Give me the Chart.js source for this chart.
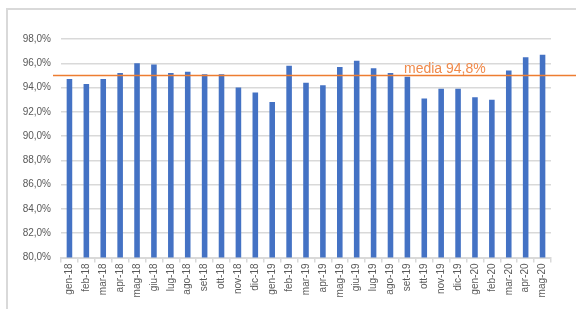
<!DOCTYPE html>
<html>
<head>
<meta charset="utf-8">
<script src="https://cdn.jsdelivr.net/npm/chart.js@4/dist/chart.umd.min.js"></script>
<style>
  html, body { margin: 0; padding: 0; background: #fff; overflow: hidden; }
</style>
</head>
<body>
<canvas id="grafica" width="576" height="309"></canvas>
<script>
const mesi = ['gen-18','feb-18','mar-18','apr-18','mag-18','giu-18','lug-18','ago-18','set-18','ott-18','nov-18','dic-18',
  'gen-19','feb-19','mar-19','apr-19','mag-19','giu-19','lug-19','ago-19','set-19','ott-19','nov-19','dic-19',
  'gen-20','feb-20','mar-20','apr-20','mag-20'];
const valori = [94.7, 94.3, 94.7, 95.2, 96.0, 95.9, 95.2, 95.3, 95.1, 95.1, 94.0, 93.6,
  92.8, 95.8, 94.4, 94.2, 95.7, 96.2, 95.6, 95.2, 94.9, 93.1, 93.9, 93.9,
  93.2, 93.0, 95.4, 96.5, 96.7];
const media = 95.0;
const mediaLabel = 'media 94,8%';

// linea media + cornice grigia
const extra = {
  id: 'extra',
  afterDraw(chart) {
    const c = chart.ctx;
    const y = chart.scales.y.getPixelForValue(media);
    c.save();
    c.strokeStyle = '#d9d9d9';
    c.lineWidth = 2;
    c.beginPath();
    c.moveTo(7, 309);
    c.lineTo(7, 9);
    c.lineTo(576, 9);
    c.stroke();
    c.strokeStyle = '#ED7D31';
    c.lineWidth = 1.5;
    c.beginPath();
    c.moveTo(53, y);
    c.lineTo(576, y);
    c.stroke();
    c.fillStyle = '#F08A4B';
    c.font = '14px "Liberation Sans", Arial, sans-serif';
    c.textBaseline = 'alphabetic';
    c.fillText(mediaLabel, 404, y - 2);
    c.restore();
  }
};

const ctx = document.getElementById('grafica').getContext('2d');
new Chart(ctx, {
  type: 'bar',
  data: {
    labels: mesi,
    datasets: [{
      data: valori,
      backgroundColor: '#4472C4',
      barPercentage: 0.33,
      categoryPercentage: 1
    }]
  },
  options: {
    responsive: false,
    animation: false,
    layout: { padding: { left: 0, top: 39, right: 25, bottom: 0 } },
    plugins: { legend: { display: false }, tooltip: { enabled: false } },
    scales: {
      x: {
        afterFit(s) { s.height = 51.5; },
        grid: { display: true, drawOnChartArea: false, offset: true, tickLength: 5, color: '#d9d9d9', lineWidth: 1.5 },
        border: { color: '#d9d9d9', width: 2 },
        ticks: {
          minRotation: 90, maxRotation: 90, autoSkip: false, padding: 1,
          color: '#595959', font: { family: '"Liberation Sans", Arial, sans-serif', size: 10 }
        }
      },
      y: {
        min: 80, max: 98,
        afterFit(s) { s.width = 61; },
        grid: { drawTicks: false, color: '#d9d9d9', lineWidth: 1.5 },
        border: { display: false },
        ticks: {
          stepSize: 2, padding: 10,
          color: '#595959', font: { family: '"Liberation Sans", Arial, sans-serif', size: 10 },
          callback: v => v.toFixed(1).replace('.', ',') + '%'
        }
      }
    }
  },
  plugins: [extra]
});
</script>
</body>
</html>
